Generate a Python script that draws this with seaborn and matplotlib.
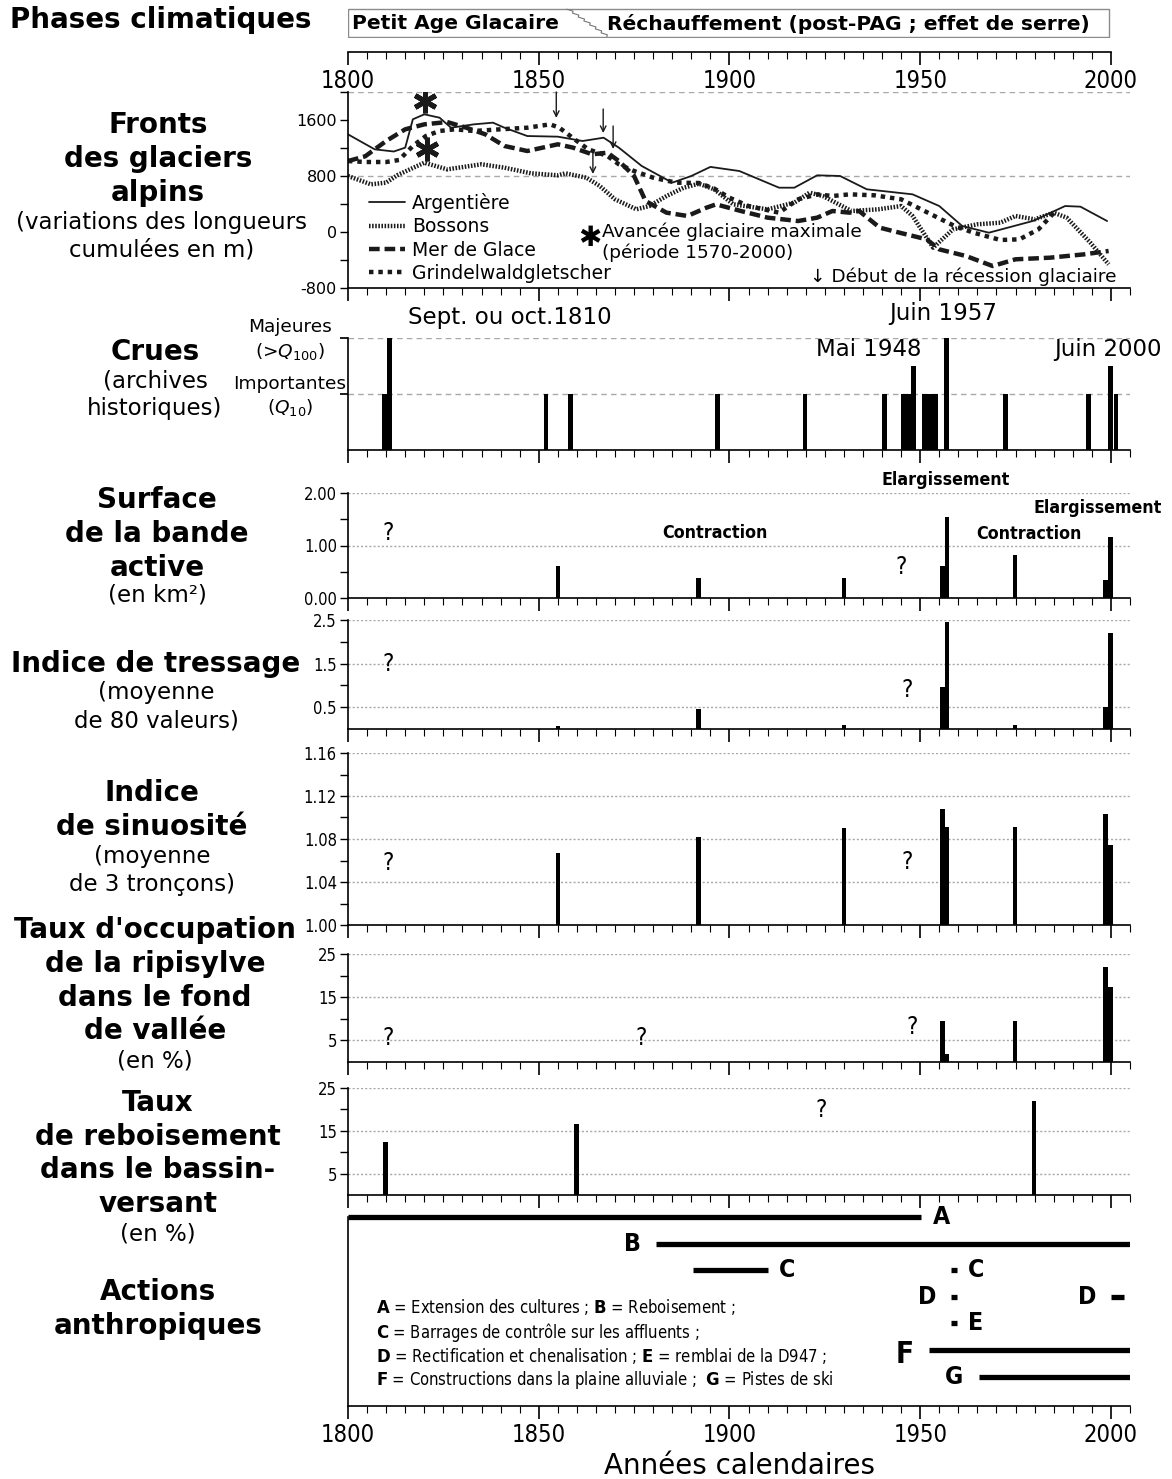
import matplotlib
matplotlib.use("Agg")
import numpy as np
import pandas as pd
import matplotlib.pyplot as plt
import seaborn as sns
from matplotlib.ticker import MultipleLocator, FixedLocator, FixedFormatter
from matplotlib.patches import Rectangle
from matplotlib.lines import Line2D
from matplotlib import font_manager as fm

# ---------------- data ----------------
years_axis = [1800, 1850, 1900, 1950, 2000]

arg_years = [1800, 1807, 1812, 1815, 1817, 1820, 1824, 1827, 1833, 1838, 1841, 1847, 1855, 1861.5,
             1867, 1871, 1877, 1885, 1890, 1895, 1902.6, 1913, 1917, 1923, 1929, 1936, 1948, 1955,
             1961, 1968, 1979.5, 1988, 1992, 1999]
arg_vals = [1395, 1181, 1150, 1205, 1610, 1681, 1633, 1490, 1538, 1562, 1490, 1371, 1362, 1300,
            1347, 1205, 943, 705, 800, 930, 871, 633, 633, 810, 800, 610, 538, 371,
            86, -10, 157, 371, 362, 157]

bos_years = [1800, 1806, 1810, 1813, 1820, 1826, 1829, 1835, 1841, 1848, 1855, 1857, 1862.5, 1866,
             1870, 1875.6, 1879, 1883.5, 1888, 1892, 1896, 1901, 1910, 1917, 1921, 1924.5, 1932,
             1939, 1945, 1948, 1953.4, 1958.6, 1965, 1971, 1975, 1980, 1985, 1988.4, 1994.6, 1999.4]
bos_vals = [800, 681, 705, 814, 990, 895, 919, 967, 919, 838, 810, 838, 776, 657,
            467, 324, 371, 514, 633, 690, 610, 395, 324, 419, 562, 514, 300,
            324, 371, 229, -224, 38, 110, 133, 229, 181, 276, 205, -152, -462]

mer_years = [1800, 1804.5, 1810, 1815, 1820, 1826, 1831, 1836, 1841, 1847, 1855, 1859, 1864, 1868,
             1871, 1875, 1878, 1883.5, 1889, 1894, 1896.5, 1903, 1910, 1918, 1923, 1927, 1931.5,
             1934, 1939.4, 1944.6, 1951.7, 1955, 1962, 1969, 1975, 1984, 1993, 1999.4]
mer_vals = [1014, 1081, 1300, 1467, 1538, 1571, 1490, 1395, 1229, 1157, 1253, 1205, 1110, 1133,
            1014, 800, 443, 276, 229, 348, 395, 300, 205, 157, 205, 300, 276,
            300, 62, -10, -105, -248, -343, -486, -390, -367, -319, -271]

gri_years = [1800, 1804.5, 1810, 1813.4, 1817, 1820.4, 1824, 1828, 1833, 1840, 1847, 1853, 1855.4,
             1860, 1863, 1868, 1871, 1875, 1880, 1886, 1892, 1896, 1900, 1905, 1913, 1918, 1923,
             1927, 1931.5, 1938, 1945, 1952, 1959, 1964, 1971, 1976, 1981, 1985]
gri_vals = [1014, 1000, 1000, 1029, 1229, 1371, 1443, 1467, 1443, 1467, 1490, 1538, 1490,
            1300, 1181, 1086, 967, 871, 776, 705, 700, 620, 490, 371, 276, 467, 538,
            514, 538, 524, 467, 276, 86, -10, -114, -105, 38, 270]

star_years = [1820.3, 1820.6]
star_vals = [1871, 1181]
arrow_years = [1854.6, 1866.9, 1869.5, 1864.2]
arrow_from = [2000, 1757, 1514, 1157]
arrow_to = [1630, 1414, 1186, 829]

crue_years = [1809.5, 1810.8, 1851.9, 1858.3, 1896.9, 1919.8, 1940.7, 1945.5, 1946.5, 1947.3,
              1948.2, 1951.1, 1952.1, 1953.1, 1954.1, 1956.8, 1972.4, 1994.2, 1999.9, 2001.3]
crue_level = [1, 2, 1, 1, 1, 1, 1, 1, 1, 1, 1.5, 1, 1, 1, 1, 2, 1, 1, 1.5, 1]

obs_years = [1855.0, 1891.9, 1930.0, 1955.8, 1957.1, 1974.9, 1998.6, 1999.9]
surface = [0.61, 0.38, 0.38, 0.61, 1.55, 0.81, 0.34, 1.17]
tressage = [0.07, 0.45, 0.09, 0.96, 2.46, 0.10, 0.50, 2.21]
sinuosite = [1.0673, 1.0822, 1.0905, 1.108, 1.0911, 1.0911, 1.1029, 1.0748]
ripi_years = [1955.8, 1957.1, 1974.9, 1998.6, 1999.9]
ripisylve = [9.5, 1.9, 9.5, 22.0, 17.4]
rebois_years = [1809.8, 1859.9, 1979.8]
reboisement = [12.3, 16.7, 22.0]

action_labels = ['A', 'B', 'C', 'C', 'D', 'D', 'E', 'F', 'G']
action_start = [1800, 1880.7, 1890.5, 1958.2, 1958.2, 2000.1, 1958.2, 1952.4, 1965.3]
action_end = [1950.3, 2005, 1910, 1959.7, 1959.7, 2003.5, 1959.7, 2005, 2005]
action_row = [0, 1, 2, 2, 3, 3, 4, 5, 6]
action_side = ['right', 'left', 'right', 'right', 'left', 'left', 'right', 'left', 'left']

# ---------------- style ----------------
sns.set_theme(style="white")
plt.rcParams['font.family'] = ['DejaVu Sans']
plt.rcParams['mathtext.fontset'] = 'dejavusans'
plt.rcParams['axes.linewidth'] = 1.2
for k in ['text.color', 'axes.labelcolor', 'xtick.color', 'ytick.color', 'axes.edgecolor']:
    plt.rcParams[k] = 'black'


def has_font(name):
    try:
        fm.findfont(fm.FontProperties(family=name), fallback_to_default=False)
        return True
    except Exception:
        return False


if has_font('Liberation Sans Narrow'):
    NARROW = dict(family=['Liberation Sans Narrow', 'DejaVu Sans'])
    NS = 1.0
else:
    NARROW = dict(family=['DejaVu Sans'], stretch='condensed')
    NS = 0.85

W, H = 1172, 1479
X0, X1 = 348, 1130
fig = plt.figure(figsize=(W / 100, H / 100), dpi=100)


def add_ax(top, bottom):
    return fig.add_axes([X0 / W, 1 - bottom / H, (X1 - X0) / W, (bottom - top) / H])


def ftext(x, y, s, **kw):
    kw.setdefault('ha', 'center')
    kw.setdefault('va', 'center')
    fig.text(x / W, 1 - y / H, s, **kw)


GRID = '#a8a8a8'


def style_x(ax, labels=False):
    ax.set_xlim(1800, 2005)
    ax.xaxis.set_major_locator(FixedLocator(years_axis))
    ax.xaxis.set_minor_locator(MultipleLocator(5))
    ax.tick_params(axis='x', which='major', bottom=True, length=9, width=1.2,
                   direction='out', color='black', labelbottom=labels, pad=3)
    ax.tick_params(axis='x', which='minor', bottom=True, length=5, width=0.8,
                   direction='out', color='black')
    for s in ['top', 'right']:
        ax.spines[s].set_visible(False)
    for s in ['left', 'bottom']:
        ax.spines[s].set_color('black')
    ax.set_facecolor('none')
    if labels:
        for lb in ax.get_xticklabels():
            lb.set_fontsize(20 * NS)
            lb.set_fontfamily(NARROW['family'])
            if 'stretch' in NARROW:
                lb.set_fontstretch(NARROW['stretch'])


def style_y(ax, major, minor, fmt, fs=10.5, narrow=True):
    ax.yaxis.set_major_locator(FixedLocator(major))
    ax.yaxis.set_minor_locator(FixedLocator(minor))
    ax.yaxis.set_major_formatter(FixedFormatter([fmt.format(v) for v in major]))
    ax.tick_params(axis='y', which='both', left=True, length=6, width=1.0,
                   direction='out', color='black', pad=2)
    for lb in ax.get_yticklabels():
        lb.set_fontsize(fs)
        if narrow:
            lb.set_fontfamily(NARROW['family'])
            if 'stretch' in NARROW:
                lb.set_fontstretch(NARROW['stretch'])


def grid(ax, levels, ls):
    for lv in levels:
        ax.axhline(lv, color=GRID, lw=1.0, ls=ls, zorder=0)


DOTTED = (0, (1.5, 1.5))
DASHED = (0, (4, 3))

# ---------------- phases box ----------------
ax_p = add_ax(8, 38)
ax_p.set_xlim(1800, 2005)
ax_p.set_ylim(0, 1)
ax_p.axis('off')
ax_p.add_patch(Rectangle((1800, 0.02), 199.5, 0.96, fill=False, ec='#8a8a8a', lw=1.0))
zt = np.linspace(0, 1, 15)
zx = 1857.8 + 10.5 * zt + np.where(np.arange(15) % 2 == 0, -0.45, 0.45)
zy = 0.96 - 0.92 * zt
ax_p.plot(zx, zy, color='#777777', lw=0.8)
ax_p.text(1801.0, 0.48, 'Petit Age Glacaire', ha='left', va='center', fontsize=14.6, fontweight='bold')
ax_p.text(1868.0, 0.48, 'Réchauffement (post-PAG ; effet de serre)', ha='left', va='center',
          fontsize=14.6, fontweight='bold')

# ---------------- top ruler ----------------
ax_r = add_ax(40, 52)
style_x(ax_r, labels=True)
ax_r.xaxis.set_minor_locator(FixedLocator(list(range(1800, 2001, 5))))
ax_r.spines['left'].set_visible(False)
ax_r.spines['bottom'].set_bounds(1800, 2000)
ax_r.set_yticks([])

# ---------------- glaciers ----------------
ax_g = add_ax(92, 288)
style_x(ax_g)
ax_g.set_ylim(-800, 2000)
style_y(ax_g, [-800, 0, 800, 1600], [-400, 400, 1200, 2000], '{:d}', fs=11.5, narrow=False)
grid(ax_g, [2000, 800], DASHED)

glacier_series = [
    ('Argentière', arg_years, arg_vals, dict(color='k', lw=1.3, ls='-')),
    ('Bossons', bos_years, bos_vals, dict(color='k', lw=3.2, ls=(0, (0.35, 0.35)))),
    ('Mer de Glace', mer_years, mer_vals, dict(color='k', lw=3.2, ls=(0, (2.4, 1.1)))),
    ('Grindelwaldgletscher', gri_years, gri_vals, dict(color='k', lw=3.2, ls=(0, (1.0, 1.1)))),
]
handles = []
for name, xs, ys, st in glacier_series:
    df = pd.DataFrame({'annee': xs, 'longueur': ys})
    sns.lineplot(data=df, x='annee', y='longueur', ax=ax_g, estimator=None, errorbar=None,
                 color=st['color'], linewidth=st['lw'], linestyle=st['ls'])
    handles.append(Line2D([], [], color=st['color'], lw=st['lw'], ls=st['ls'], label=name))
ax_g.set_xlabel('')
ax_g.set_ylabel('')
ax_g.plot(star_years, star_vals, ls='none', marker=(6, 2, 0), ms=17, mew=3.6, color='k')
for xa, y0, y1 in zip(arrow_years, arrow_from, arrow_to):
    ax_g.annotate('', xy=(xa, y1), xytext=(xa, y0),
                  arrowprops=dict(arrowstyle='->', lw=1.0, color='k', shrinkA=0, shrinkB=0,
                                  mutation_scale=10))
ax_g.legend(handles=handles, loc='upper left', bbox_to_anchor=(0.027, 0.485), frameon=False,
            fontsize=13.5, handlelength=1.9, handletextpad=0.4, labelspacing=0.23,
            borderpad=0, borderaxespad=0)
ax_g.text(1863.3, -86, '✱', fontsize=20, ha='center', va='center', fontweight='bold')
ax_g.text(1866.7, 0, 'Avancée glaciaire maximale', fontsize=13.3, ha='left', va='center')
ax_g.text(1866.7, -300, '(période 1570-2000)', fontsize=13.3, ha='left', va='center')
ax_g.text(1921, -640, '↓ Début de la récession glaciaire', fontsize=13.3, ha='left', va='center')

# ---------------- crues ----------------
ax_c = add_ax(338, 450)
style_x(ax_c)
ax_c.set_ylim(0, 2)
ax_c.yaxis.set_major_locator(FixedLocator([1, 2]))
ax_c.tick_params(axis='y', which='both', left=True, length=6, direction='out', color='black',
                 labelleft=False)
grid(ax_c, [1, 2], DASHED)
ax_c.bar(crue_years, crue_level, width=1.25, color='black', edgecolor='none', zorder=3)
ax_c.text(1842.3, 2.36, 'Sept. ou oct.1810', fontsize=16.5, ha='center', va='center')
ax_c.text(1956.1, 2.43, 'Juin 1957', fontsize=16.5, ha='center', va='center')
ax_c.text(1936.5, 1.79, 'Mai 1948', fontsize=16.5, ha='center', va='center')
ax_c.text(1999.2, 1.79, 'Juin 2000', fontsize=16.5, ha='center', va='center')
ftext(290, 327, 'Majeures', fontsize=13.3)
ftext(290, 352, r'(>$Q_{100}$)', fontsize=13.3)
ftext(290, 384, 'Importantes', fontsize=13.3)
ftext(290, 408, r'($Q_{10}$)', fontsize=13.3)

# ---------------- surface ----------------
QM = dict(fontsize=20 * NS, ha='center', va='center', **NARROW)
LAB = dict(fontsize=15 * NS, ha='center', va='center', fontweight='bold', **NARROW)
YFS = 14 * NS

ax_s = add_ax(493, 598)
style_x(ax_s)
ax_s.set_ylim(0, 2)
style_y(ax_s, [0, 1, 2], [0.5, 1.5], '{:.2f}', fs=YFS)
grid(ax_s, [1, 2], DOTTED)
ax_s.bar(obs_years, surface, width=1.15, color='black', edgecolor='none', zorder=3)
ax_s.text(1810.5, 1.24, '?', **QM)
ax_s.text(1945.1, 0.59, '?', **QM)
ax_s.text(1896.3, 1.24, 'Contraction', **LAB)
ax_s.text(1978.5, 1.22, 'Contraction', **LAB)
ax_s.text(1956.7, 2.25, 'Elargissement', **LAB)
ax_s.text(1996.6, 1.71, 'Elargissement', **LAB)

# ---------------- tressage ----------------
ax_t = add_ax(620, 729)
style_x(ax_t)
ax_t.set_ylim(0, 2.5)
style_y(ax_t, [0.5, 1.5, 2.5], [1.0, 2.0], '{:.1f}', fs=YFS)
grid(ax_t, [0.5, 1.5, 2.5], DOTTED)
ax_t.bar(obs_years, tressage, width=1.15, color='black', edgecolor='none', zorder=3)
ax_t.text(1810.5, 1.48, '?', **QM)
ax_t.text(1946.7, 0.90, '?', **QM)

# ---------------- sinuosite ----------------
ax_n = add_ax(753, 925)
style_x(ax_n)
ax_n.set_ylim(1.0, 1.16)
style_y(ax_n, [1.00, 1.04, 1.08, 1.12, 1.16], [1.02, 1.06, 1.10, 1.14], '{:.2f}', fs=YFS)
grid(ax_n, [1.04, 1.08, 1.12, 1.16], DOTTED)
ax_n.bar(obs_years, np.array(sinuosite) - 1.0, bottom=1.0, width=1.15, color='black',
         edgecolor='none', zorder=3)
ax_n.text(1810.5, 1.0577, '?', **QM)
ax_n.text(1946.7, 1.0586, '?', **QM)

# ---------------- ripisylve ----------------
ax_rp = add_ax(954, 1062)
style_x(ax_rp)
ax_rp.set_ylim(0, 25)
style_y(ax_rp, [5, 15, 25], [10, 20], '{:d}', fs=YFS)
grid(ax_rp, [5, 15, 25], DOTTED)
ax_rp.bar(ripi_years, ripisylve, width=1.15, color='black', edgecolor='none', zorder=3)
ax_rp.text(1810.5, 5.6, '?', **QM)
ax_rp.text(1876.9, 5.6, '?', **QM)
ax_rp.text(1947.8, 8.0, '?', **QM)

# ---------------- reboisement ----------------
ax_rb = add_ax(1088, 1195)
style_x(ax_rb)
ax_rb.set_ylim(0, 25)
style_y(ax_rb, [5, 15, 25], [10, 20], '{:d}', fs=YFS)
grid(ax_rb, [5, 15, 25], DOTTED)
ax_rb.bar(rebois_years, reboisement, width=1.15, color='black', edgecolor='none', zorder=3)
ax_rb.text(1923.9, 19.8, '?', **QM)

# ---------------- actions ----------------
ax_a = add_ax(1205, 1406)
style_x(ax_a, labels=True)
ax_a.set_ylim(7.1, -0.45)
ax_a.set_yticks([])
ax_a.spines['left'].set_bounds(0, 7.1)
ax_a.hlines(action_row, action_start, action_end, color='black', lw=3.8, capstyle='butt')
for lab, r, s, e, side in zip(action_labels, action_row, action_start, action_end, action_side):
    big = lab == 'F'
    if side == 'right':
        ax_a.annotate(lab, xy=(e, r), xytext=(8, 0), textcoords='offset points', ha='left',
                      va='center', fontsize=21 * NS, fontweight='bold', **NARROW)
    else:
        ax_a.annotate(lab, xy=(s, r), xytext=(-11, -3 if big else 0), textcoords='offset points',
                      ha='right', va='center', fontsize=(25 if big else 21) * NS,
                      fontweight='bold', **NARROW)
ax_a.set_xlabel('Années calendaires', fontsize=20, labelpad=4)

LEG = dict(fontsize=14 * NS, ha='left', va='center', **NARROW)
ftext(376, 1307, r'$\mathbf{A}$ = Extension des cultures ; $\mathbf{B}$ = Reboisement ;', **LEG)
ftext(376, 1332, r'$\mathbf{C}$ = Barrages de contrôle sur les affluents ;', **LEG)
ftext(376, 1356, r'$\mathbf{D}$ = Rectification et chenalisation ; $\mathbf{E}$ = remblai de la D947 ;', **LEG)
ftext(376, 1380, r'$\mathbf{F}$ = Constructions dans la plaine alluviale ;  $\mathbf{G}$ = Pistes de ski', **LEG)

# ---------------- left column labels ----------------
B = dict(fontsize=20, fontweight='bold')
N = dict(fontsize=16.5)
ftext(10, 20, 'Phases climatiques', ha='left', **B)
for y, s in [(125, 'Fronts'), (159, 'des glaciers'), (193, 'alpins')]:
    ftext(158, y, s, **B)
for y, s in [(222, '(variations des longueurs'), (250, 'cumulées en m)')]:
    ftext(162, y, s, **N)
ftext(155, 352, 'Crues', **B)
for y, s in [(381, '(archives'), (409, 'historiques)')]:
    ftext(155, y, s, **N)
for y, s in [(500, 'Surface'), (534, 'de la bande'), (568, 'active')]:
    ftext(157, y, s, **B)
ftext(157, 595, '(en km²)', **N)
ftext(156, 664, 'Indice de tressage', **B)
for y, s in [(693, '(moyenne'), (721, 'de 80 valeurs)')]:
    ftext(156, y, s, **N)
for y, s in [(793, 'Indice'), (827, 'de sinuosité')]:
    ftext(152, y, s, **B)
for y, s in [(857, '(moyenne'), (885, 'de 3 tronçons)')]:
    ftext(152, y, s, **N)
for y, s in [(930, "Taux d'occupation"), (964, 'de la ripisylve'), (998, 'dans le fond'),
             (1031, 'de vallée')]:
    ftext(155, y, s, **B)
ftext(155, 1061, '(en %)', **N)
for y, s in [(1103, 'Taux'), (1137, 'de reboisement'), (1170, 'dans le bassin-'), (1204, 'versant')]:
    ftext(158, y, s, **B)
ftext(158, 1234, '(en %)', **N)
for y, s in [(1292, 'Actions'), (1326, 'anthropiques')]:
    ftext(158, y, s, **B)

fig.savefig('out.png', dpi=100, facecolor='white')
